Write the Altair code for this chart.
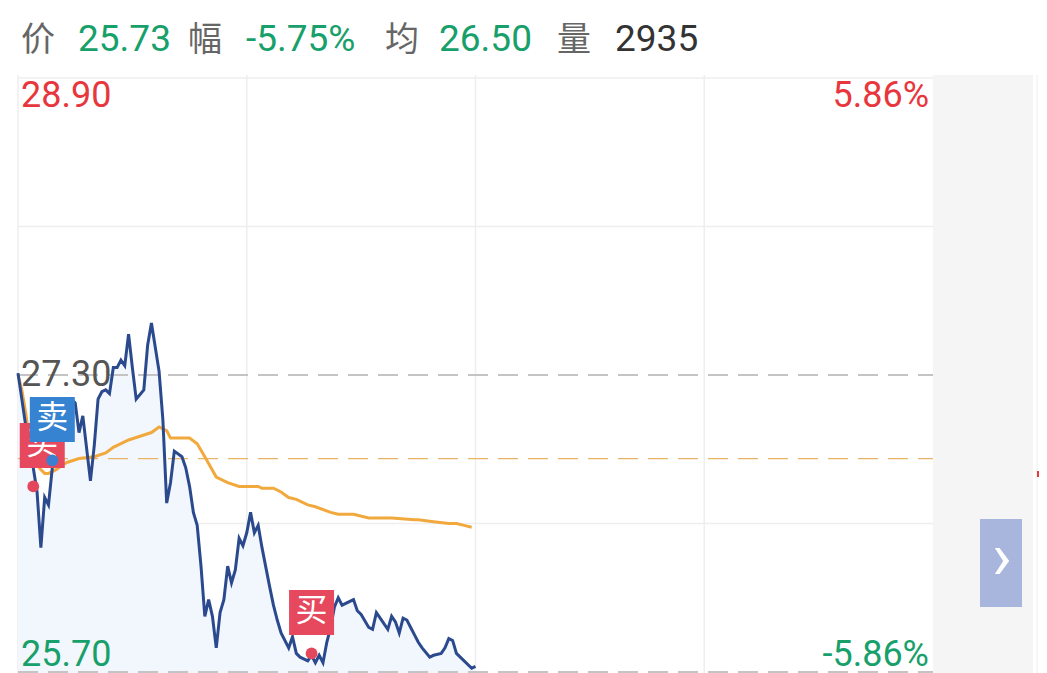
import altair as alt
import pandas as pd

# ---------------- data ----------------
price_minutes = [0, 2, 4, 5, 6, 7, 8, 9, 10, 11, 13, 14, 15, 16, 17, 19, 20, 21, 22, 23,
                 24, 25, 26, 27, 28, 29, 30, 31, 33, 34, 35, 37, 38, 39, 40, 41, 43, 44, 45, 46,
                 47, 48, 49, 50, 51, 52, 53, 54, 55, 56, 57, 58, 59, 60, 61, 62, 63, 64, 66, 67,
                 68, 69, 71, 72, 73, 74, 76, 77, 78, 79, 80, 81, 82, 83, 84, 85, 88, 89, 90, 92,
                 93, 94, 95, 97, 98, 99, 100, 101, 102, 103, 104, 105, 106, 108, 109, 111, 112, 113, 114, 115,
                 116, 119, 120]
price_values = [27.31, 27.03, 26.80, 26.67, 26.37, 26.64, 26.60, 26.80, 26.92, 27.06, 27.14, 27.17, 27.15, 26.99, 27.08, 26.73, 26.92, 27.17, 27.21, 27.22,
                27.20, 27.34, 27.34, 27.38, 27.35, 27.52, 27.34, 27.17, 27.22, 27.46, 27.58, 27.32, 27.06, 26.61, 26.72, 26.89, 26.86, 26.80, 26.70, 26.56,
                26.49, 26.27, 26.00, 26.09, 26.00, 25.83, 26.02, 26.09, 26.27, 26.18, 26.25, 26.42, 26.38, 26.45, 26.56, 26.45, 26.49, 26.37, 26.16, 26.06,
                25.98, 25.91, 25.83, 25.89, 25.80, 25.78, 25.76, 25.79, 25.75, 25.79, 25.75, 25.86, 25.94, 26.05, 26.10, 26.06, 26.09, 26.03, 26.01, 25.94,
                25.93, 26.02, 25.99, 25.93, 26.00, 25.97, 25.91, 25.99, 25.98, 25.94, 25.90, 25.86, 25.83, 25.78, 25.79, 25.80, 25.83, 25.88, 25.87, 25.80,
                25.78, 25.72, 25.73]

avg_minutes = [0, 1, 2, 3, 4, 6, 7, 8, 10, 12, 13, 16, 20, 23, 25, 29, 32, 35, 37, 39,
               40, 45, 47, 49, 52, 55, 58, 63, 64, 67, 69, 71, 73, 76, 78, 82, 84, 88, 92, 97,
               98, 104, 105, 109, 113, 115, 117, 119]
avg_values = [27.30, 27.22, 27.10, 26.95, 26.84, 26.79, 26.77, 26.77, 26.79, 26.82, 26.83, 26.85, 26.86, 26.88, 26.91, 26.95, 26.97, 26.99, 27.02, 27.00,
              26.96, 26.96, 26.93, 26.86, 26.75, 26.72, 26.70, 26.70, 26.69, 26.69, 26.67, 26.64, 26.63, 26.60, 26.59, 26.56, 26.55, 26.55, 26.53, 26.53,
              26.53, 26.52, 26.52, 26.51, 26.50, 26.50, 26.49, 26.48]

prev_close = 27.30
price_high = 28.90
price_low = 25.70
cost_line = 26.85
grid_prices = [28.90, 28.10, 26.50]
dashed_prices = [27.30, 25.70]
grid_minutes = [0, 60, 120, 180]
day_minutes = 240

signal_minutes = [4, 9, 77]
signal_prices = [26.70, 26.84, 25.80]
signal_labels = ["买", "卖", "买"]

header_labels = ["价", "25.73", "幅", "-5.75%", "均", "26.50", "量", "2935"]

# ---------------- chart ----------------
W, H = 915, 594
RED = "#e8363d"
GREEN = "#17a06a"
BUY = "#e6485e"
SELL = "#3683d2"
FONT = "Roboto, 'Noto Sans CJK SC', sans-serif"
CJK = "'Noto Sans CJK SC', sans-serif"

xs = alt.Scale(domain=[0, day_minutes], nice=False, zero=False)
ys = alt.Scale(domain=[price_low, price_high], nice=False, zero=False)

price_df = pd.DataFrame({"minute": price_minutes, "price": price_values})
avg_df = pd.DataFrame({"minute": avg_minutes, "price": avg_values})

X = alt.X("minute:Q", scale=xs, axis=None)
Y = alt.Y("price:Q", scale=ys, axis=None)

layers = []

# right grey panel, button and marker
one = pd.DataFrame({"k": [0]})
layers.append(alt.Chart(one).mark_rect(color="#f5f5f5").encode(
    x=alt.value(W), x2=alt.value(W + 100), y=alt.value(-3), y2=alt.value(H + 10)))
layers.append(alt.Chart(one).mark_rule(color="#eeeeee", strokeWidth=1).encode(
    x=alt.value(W + 104), y=alt.value(-3), y2=alt.value(H + 10)))
layers.append(alt.Chart(one).mark_rect(color="#a8b6de").encode(
    x=alt.value(962), x2=alt.value(1004), y=alt.value(441), y2=alt.value(529)))
layers.append(alt.Chart(pd.DataFrame({"t": ["›"]})).mark_text(
    color="white", font=FONT, fontSize=66, fontWeight="normal", align="center", baseline="middle").encode(
    x=alt.value(984), y=alt.value(481), text="t:N"))
layers.append(alt.Chart(one).mark_rect(color=RED).encode(
    x=alt.value(1019), x2=alt.value(1031), y=alt.value(393), y2=alt.value(399)))

# grid
layers.append(alt.Chart(pd.DataFrame({"price": grid_prices})).mark_rule(
    color="#eeeeee", strokeWidth=1.5).encode(y=Y, x=alt.value(0), x2=alt.value(W)))
layers.append(alt.Chart(pd.DataFrame({"minute": grid_minutes})).mark_rule(
    color="#eeeeee", strokeWidth=1.5).encode(x=X, y=alt.value(-3), y2=alt.value(H + 10)))

# area + lines
layers.append(alt.Chart(price_df).mark_area(color="#f2f6fd").encode(x=X, y=Y, y2=alt.value(H)))
layers.append(alt.Chart(pd.DataFrame({"price": dashed_prices})).mark_rule(
    color="#c4c4c4", strokeWidth=2, strokeDash=[20, 10]).encode(y=Y, x=alt.value(0), x2=alt.value(W)))
layers.append(alt.Chart(pd.DataFrame({"price": [cost_line]})).mark_rule(
    color="#e9b466", strokeWidth=1.3, strokeDash=[20, 10]).encode(y=Y, x=alt.value(0), x2=alt.value(W)))
layers.append(alt.Chart(avg_df).mark_line(color="#f1a93e", strokeWidth=3).encode(x=X, y=Y))
layers.append(alt.Chart(price_df).mark_line(color="#2b4a8e", strokeWidth=3).encode(x=X, y=Y))

# signals
sig = pd.DataFrame({"minute": signal_minutes, "price": signal_prices, "label": signal_labels})
offsets = [9, 0, 0]
colors = [BUY, SELL, BUY]
for i in range(len(sig)):
    row = sig.iloc[[i]]
    layers.append(alt.Chart(row).mark_square(size=45 * 45, color=colors[i], opacity=1,
                                             xOffset=offsets[i], yOffset=-41).encode(x=X, y=Y))
    layers.append(alt.Chart(row).mark_text(color="white", font=CJK, fontSize=32, align="center",
                                           baseline="middle", xOffset=offsets[i], yOffset=-42).encode(
        x=X, y=Y, text="label:N"))
for i in range(len(sig)):
    row = sig.iloc[[i]]
    dot_color = "#e3475c" if signal_labels[i] == "买" else "#3a7fd0"
    layers.append(alt.Chart(row).mark_circle(size=140, color=dot_color, opacity=1).encode(x=X, y=Y))

# price labels
def txt(s, x, y, color, align="left", font=FONT, size=36):
    return alt.Chart(pd.DataFrame({"t": [s]})).mark_text(
        color=color, font=font, fontSize=size, align=align, baseline="alphabetic").encode(
        x=alt.value(x), y=alt.value(y), text="t:N")

pct = (price_high - prev_close) / prev_close * 100
layers.append(txt(f"{price_high:.2f}", 3, 29, RED))
layers.append(txt(f"{pct:.2f}%", 911, 29, RED, align="right"))
layers.append(txt(f"{prev_close:.2f}", 3, 308, "#555555"))
layers.append(txt(f"{price_low:.2f}", 3, 588, GREEN))
layers.append(txt(f"-{pct:.2f}%", 911, 588, GREEN, align="right"))

# header
header_x = [3, 60, 170, 228, 367, 421, 539, 597]
header_colors = ["#666666", GREEN, "#666666", GREEN, "#666666", GREEN, "#666666", "#333333"]
for lab, hx, hc in zip(header_labels, header_x, header_colors):
    f = CJK if lab in ("价", "幅", "均", "量") else FONT
    layers.append(txt(lab, hx, -27, hc, font=f, size=37 if f == FONT else 34))

chart = alt.layer(*layers).properties(
    width=W, height=H,
    autosize=alt.AutoSizeParams(type="none"),
    padding={"left": 10, "top": 70, "right": 106, "bottom": 1},
    background="white",
).configure_view(stroke=None)

chart.save("out.html", embed_options={"renderer": "svg", "actions": False})
